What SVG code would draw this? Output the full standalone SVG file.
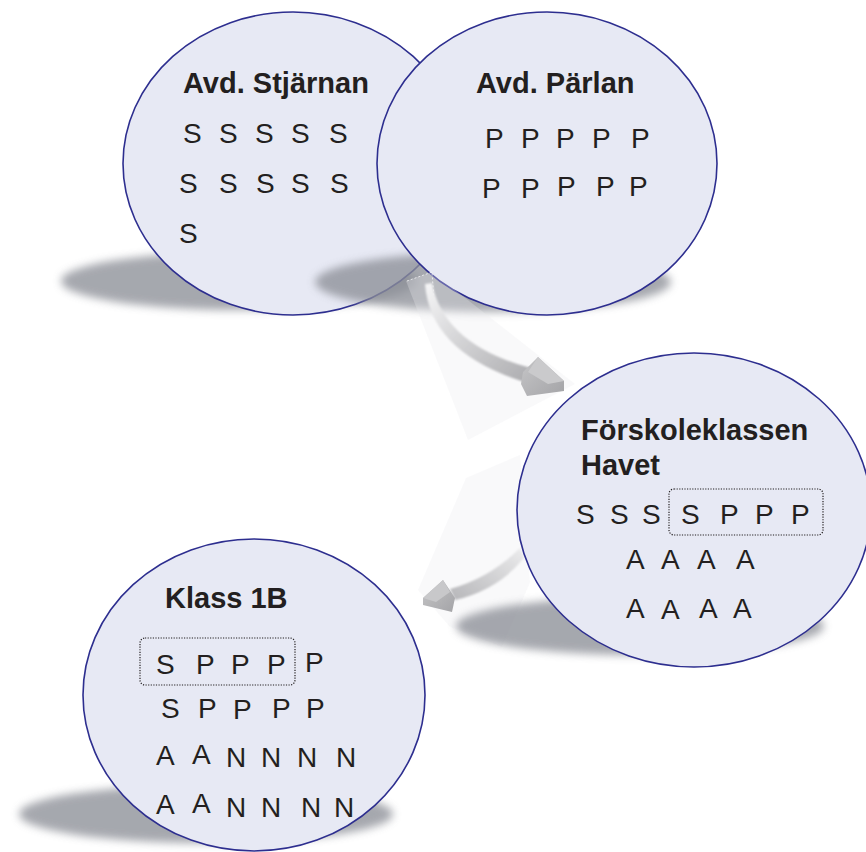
<svg xmlns="http://www.w3.org/2000/svg" width="866" height="852" viewBox="0 0 866 852">
  <defs>
    <filter id="soft" x="-20%" y="-60%" width="140%" height="220%">
      <feGaussianBlur stdDeviation="4.5"/>
    </filter>
    <filter id="haze" x="-20%" y="-20%" width="140%" height="140%">
      <feGaussianBlur stdDeviation="1.2"/>
    </filter>
    <linearGradient id="shaft1" x1="0" y1="0" x2="1" y2="1">
      <stop offset="0" stop-color="#f6f6f7"/>
      <stop offset="0.45" stop-color="#d4d4d6"/>
      <stop offset="1" stop-color="#acacaf"/>
    </linearGradient>
    <linearGradient id="shaft2" x1="1" y1="0" x2="0" y2="1">
      <stop offset="0" stop-color="#ececed"/>
      <stop offset="1" stop-color="#b6b6b9"/>
    </linearGradient>
    <linearGradient id="head" x1="0" y1="0" x2="1" y2="1">
      <stop offset="0" stop-color="#c6c6c8"/>
      <stop offset="1" stop-color="#a4a4a7"/>
    </linearGradient>
  </defs>
  <style>
    .bubble { fill: #e7e9f4; stroke: #2d2e8f; stroke-width: 1.6; }
    .shadow { fill: #8d9098; opacity: 0.78; filter: url(#soft); }
    .title { font-family: "Liberation Sans", Arial, sans-serif; font-weight: bold; font-size: 29px; fill: #231f20; }
    .kid { font-family: "Liberation Sans", Arial, sans-serif; font-size: 28px; fill: #231f20; }
    .group { fill: none; stroke: #231f20; stroke-width: 1.2; stroke-dasharray: 1.2 1.4; }
    .panel { fill: #ececed; opacity: 0.3; }
    .edge { fill: none; stroke: #ffffff; stroke-width: 0.8; stroke-dasharray: 2 2; opacity: 0.85; }
  </style>

  <rect width="866" height="852" fill="#ffffff"/>

  <!-- floor shadow of the first department -->
  <ellipse class="shadow" cx="239" cy="281" rx="178" ry="29"/>

  <g id="stjarnan">
    <ellipse class="bubble" cx="293" cy="163.5" rx="170" ry="151.5"/>
    <text class="title" x="183" y="93">Avd. Stjärnan</text>
    <g class="kid">
      <text x="183" y="143">S</text>
      <text x="219" y="143">S</text>
      <text x="255" y="143">S</text>
      <text x="291" y="143">S</text>
      <text x="329" y="143">S</text>
      <text x="179" y="193">S</text>
      <text x="219" y="193">S</text>
      <text x="256" y="193">S</text>
      <text x="291" y="193">S</text>
      <text x="330" y="193">S</text>
      <text x="179" y="243">S</text>
    </g>
  </g>

  <!-- this shadow falls across the first bubble -->
  <ellipse class="shadow" cx="493" cy="282" rx="178" ry="30"/>

  <g id="parlan">
    <ellipse class="bubble" cx="547" cy="163.5" rx="170" ry="151.5"/>
    <text class="title" x="476" y="93">Avd. Pärlan</text>
    <g class="kid">
      <text x="485" y="148">P</text>
      <text x="521" y="148">P</text>
      <text x="556" y="148">P</text>
      <text x="592" y="148">P</text>
      <text x="631" y="148">P</text>
      <text x="482" y="198">P</text>
      <text x="521" y="198">P</text>
      <text x="557" y="196">P</text>
      <text x="596" y="196">P</text>
      <text x="629" y="196">P</text>
    </g>
  </g>

  <!-- connectors: curved 3D arrows on faint glass panels -->
  <g id="connectors">
    <polygon class="panel" points="406,281 432,272 575,384 468,440"/>
    <polyline class="edge" points="407,281 432,272 434,300"/>
    <path d="M 425 284 Q 430 352 524 382 L 531 368 Q 444 345 432 283 Z" fill="url(#shaft1)" filter="url(#haze)"/>
    <polygon points="523,372 538,357 564,381 564,391 527,396 521,384" fill="url(#head)"/>
    <polygon points="538,357 564,381 548,384 528,372" fill="#cacacc"/>

    <polygon class="panel" points="466,478 520,455 530,583 502,647 450,627 418,590"/>
    <polyline class="edge" points="450,627 502,647 530,583"/>
    <path d="M 520 548 Q 490 578 450 589 L 455 600 Q 498 590 524 558 Z" fill="url(#shaft2)" filter="url(#haze)"/>
    <polygon points="443,580 423,598 423,605 452,612 455,598" fill="url(#head)"/>
    <polygon points="443,580 423,598 436,602 450,592" fill="#c8c8ca"/>
  </g>

  <ellipse class="shadow" cx="640" cy="626" rx="184" ry="29"/>

  <g id="havet">
    <ellipse class="bubble" cx="694" cy="510" rx="177" ry="157"/>
    <text class="title" x="581" y="440">Förskoleklassen</text>
    <text class="title" x="581" y="475">Havet</text>
    <rect class="group" x="669" y="489" width="154" height="46" rx="5"/>
    <g class="kid">
      <text x="576" y="524">S</text>
      <text x="610" y="524">S</text>
      <text x="642" y="524">S</text>
      <text x="681" y="524">S</text>
      <text x="720" y="524">P</text>
      <text x="755" y="524">P</text>
      <text x="791" y="524">P</text>
      <text x="626" y="569">A</text>
      <text x="661" y="569">A</text>
      <text x="697" y="569">A</text>
      <text x="736" y="569">A</text>
      <text x="626" y="618">A</text>
      <text x="661" y="619">A</text>
      <text x="699" y="618">A</text>
      <text x="733" y="618">A</text>
    </g>
  </g>

  <ellipse class="shadow" cx="206" cy="814" rx="187" ry="29"/>

  <g id="klass1b">
    <ellipse class="bubble" cx="254" cy="695" rx="171" ry="156"/>
    <text class="title" x="165" y="608">Klass 1B</text>
    <rect class="group" x="140" y="638" width="155" height="47" rx="5"/>
    <g class="kid">
      <text x="156" y="674">S</text>
      <text x="196" y="674">P</text>
      <text x="231" y="674">P</text>
      <text x="267" y="674">P</text>
      <text x="305" y="672">P</text>
      <text x="161" y="718">S</text>
      <text x="198" y="718">P</text>
      <text x="233" y="719">P</text>
      <text x="272" y="718">P</text>
      <text x="306" y="718">P</text>
      <text x="156" y="765">A</text>
      <text x="192" y="764">A</text>
      <text x="226" y="767">N</text>
      <text x="261" y="767">N</text>
      <text x="297" y="767">N</text>
      <text x="336" y="767">N</text>
      <text x="156" y="814">A</text>
      <text x="192" y="813">A</text>
      <text x="226" y="817">N</text>
      <text x="261" y="817">N</text>
      <text x="301" y="817">N</text>
      <text x="334" y="817">N</text>
    </g>
  </g>
</svg>
